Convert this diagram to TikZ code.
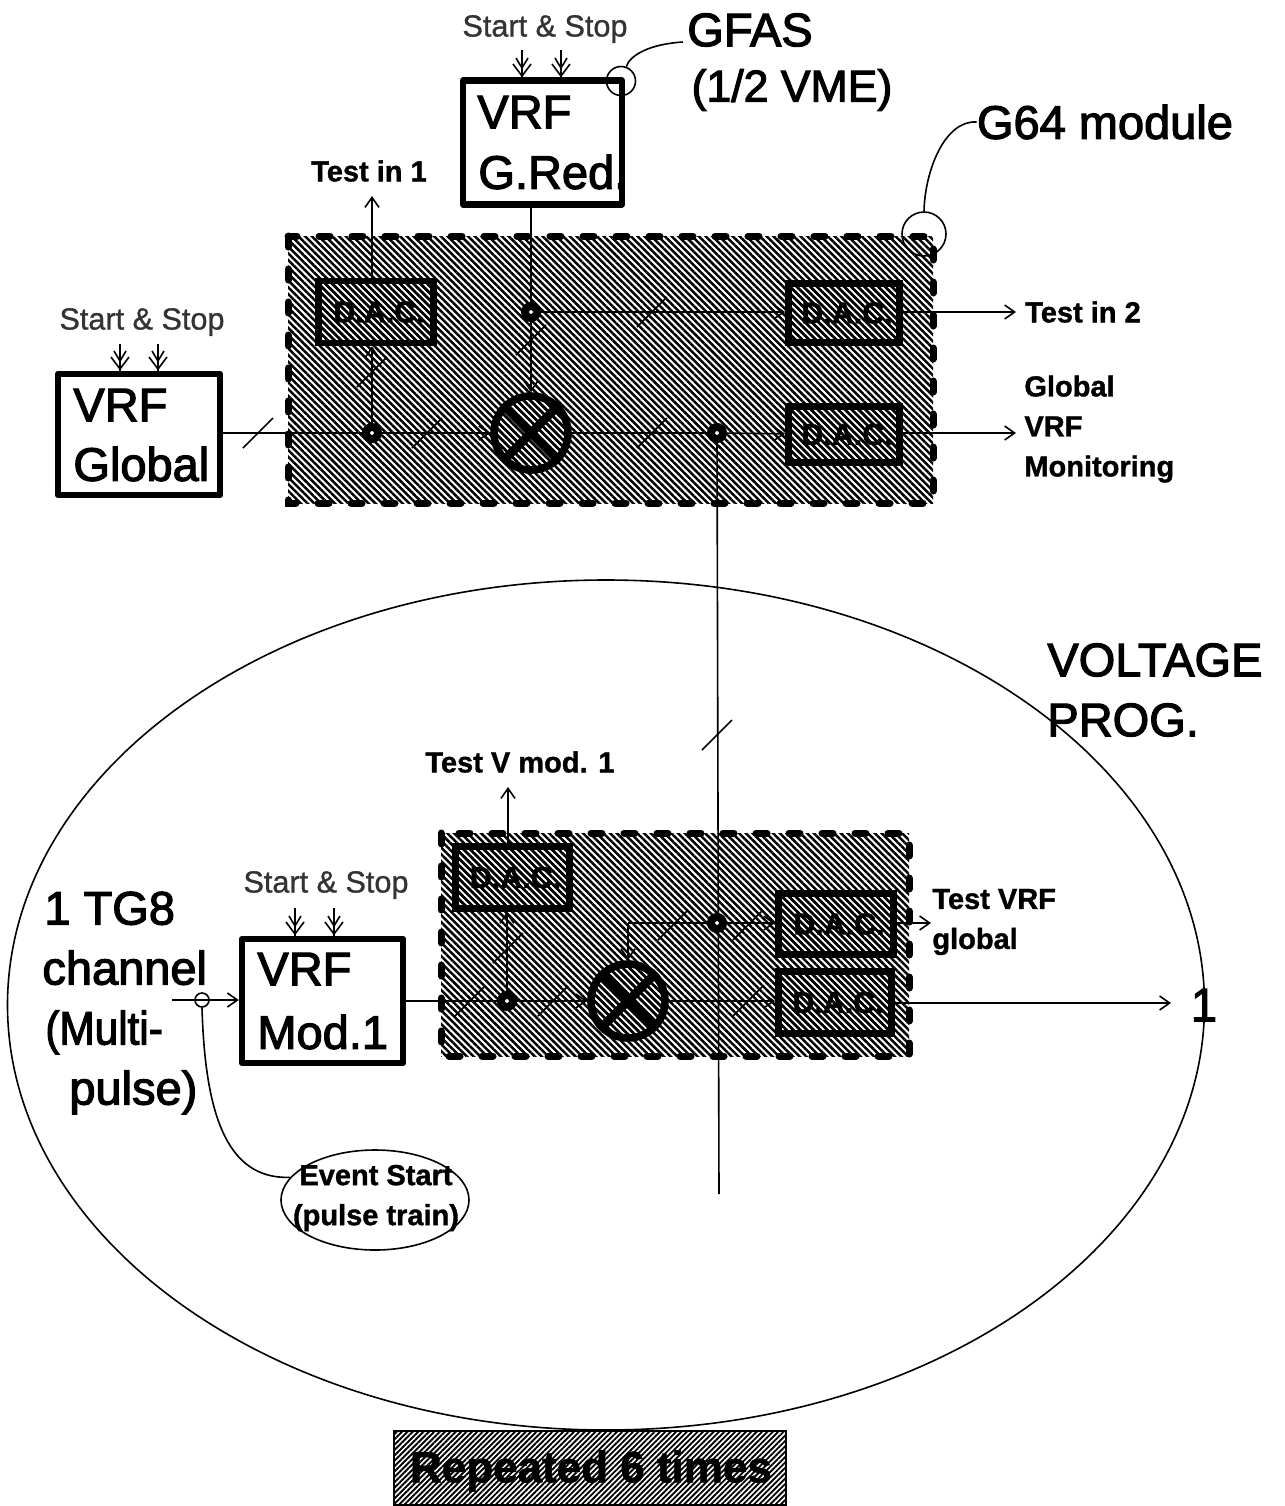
\documentclass[tikz,border=0pt]{standalone}
\usepackage{fontspec}
\setmainfont{Liberation Sans}
\newfontfamily\heavy[FakeBold=2.5]{Liberation Sans}
\newfontfamily\semi[FakeBold=1]{Liberation Sans}
\newfontfamily\heavyb[FakeBold=1.2]{Liberation Sans Bold}
\usetikzlibrary{patterns.meta,arrows.meta,shapes.geometric}
\tikzset{
 x=0.5pt,y=-0.5pt,
 thinl/.style={line width=0.8pt},
 arr/.style={thinl,-{Straight Barb[length=5pt,width=7pt,line width=0.8pt]}},
 hatch/.style={pattern={Lines[angle=-45,distance=2.4pt,line width=1.25pt]},pattern color=black},
 fine/.style={pattern={Lines[angle=45,distance=1.9pt,line width=0.95pt]},pattern color=black},
 module/.style={hatch,draw=none},
 modedge/.style={line width=3.5pt,line cap=round,dash pattern=on 5.5pt off 11pt},
 vrf/.style={draw,line width=3.2pt,line join=round,fill=white,inner sep=0pt,anchor=center},
 vtxt/.style={font=\heavy\fontsize{23.5}{30}\selectfont,inner sep=0pt,anchor=west},
 dac/.style={draw,line width=3.4pt,hatch,inner sep=0pt,font=\heavyb\fontsize{15.2}{18}\selectfont},
 jun/.style={circle,draw,line width=4pt,fill=white,minimum size=6pt,inner sep=0pt},
 mix/.style={circle,draw,line width=3.8pt,minimum size=37pt,inner sep=0pt,hatch},
 lab/.style={font=\heavyb\fontsize{14.5}{20}\selectfont,align=left,inner sep=0pt},
 ss/.style={font=\semi\fontsize{15.3}{17}\selectfont,inner sep=0pt,text=black!80},
 big/.style={font=\heavy\fontsize{23.5}{30}\selectfont,align=left,inner sep=0pt},
 ctl/.style={thinl},
 slash/.style={thinl},
}
\newcommand{\dactext}{\hspace{3pt}D.A.C.}
\begin{document}
\begin{tikzpicture}
\useasboundingbox (0,0) rectangle (1285,1506);
% big ellipse
\node[ellipse,draw,thinl,minimum width=598.5pt,minimum height=425pt,inner sep=0pt] (bigell) at (606,1005) {};
% modules
\path[module] (288,236) rectangle (933,503);
\draw[modedge] (288,236) rectangle (933,503);
\path[module] (441,833) rectangle (909,1056);
\draw[modedge] (441,833) rectangle (909,1056);
% VRF boxes
\node[vrf,minimum width=79.5pt,minimum height=62pt] (gred) at (542.5,142.5) {};
\node[vtxt] (gredt1) at (477,112) {VRF};
\node[vtxt] (gredt2) at (478,172) {G.Red.};
\node[vrf,minimum width=81pt,minimum height=60.5pt] (global) at (139,434.5) {};
\node[vtxt] (globalt1) at (73,405) {VRF};
\node[vtxt] (globalt2) at (73,464) {Global};
\node[vrf,minimum width=80.5pt,minimum height=62pt] (mod) at (322.5,1001) {};
\node[vtxt] (modt1) at (257,969) {VRF};
\node[vtxt] (modt2) at (257,1032) {Mod.1};
% DACs
\node[dac,minimum width=57.5pt,minimum height=31pt] (d1) at (376,312) {\dactext};
\node[dac,minimum width=55.5pt,minimum height=29.5pt] (d2) at (844,313) {\dactext};
\node[dac,minimum width=55.5pt,minimum height=28pt] (d3) at (844,434.5) {\dactext};
\node[dac,minimum width=57pt,minimum height=31pt] (d4) at (512.5,877.5) {\dactext};
\node[dac,minimum width=57.5pt,minimum height=30.5pt] (d5) at (836,924) {\dactext};
\node[dac,minimum width=56.5pt,minimum height=31pt] (d6) at (835,1002.5) {\dactext};
% end points
\coordinate (t1) at (372,196);
\coordinate (t2) at (1016,312);
\coordinate (t3) at (1016,433);
\coordinate (t4) at (508,787);
\coordinate (t5) at (931,923);
\coordinate (t6) at (1171,1003);
\coordinate (vend) at (719,1194);
\coordinate (corner) at (628,923);
\coordinate (tgs) at (172,1000);
\coordinate (j1) at (372,433);
\coordinate (j2) at (531,312);
\coordinate (j3) at (717,433);
\coordinate (j4) at (507,1001);
\coordinate (j5) at (717,923);
\coordinate (m1c) at (531,433);
\coordinate (m2c) at (628,1001);
% junctions and mixers
\node[mix] (m1) at (m1c) {};
\node[mix] (m2) at (m2c) {};
\draw[line width=4.4pt] (m1.45) -- (m1.225) (m1.135) -- (m1.315);
\draw[line width=4.4pt] (m2.45) -- (m2.225) (m2.135) -- (m2.315);
% connectors
\draw[thinl] (global.east|-j1) -- (j1);
\draw[arr] (j1) -- (m1);
\draw[thinl] (m1) -- (j3);
\draw[arr] (j3) -- (d3);
\draw[arr] (j1) -- (d1.south-|j1);
\draw[arr] (d1.north-|j1) -- (t1);
\draw[thinl] (gred.south-|j2) -- (j2);
\draw[arr] (j2) -- (m1);
\draw[arr] (j2) -- (d2.west|-j2);
\draw[arr] (d2.east|-t2) -- (t2);
\draw[arr] (d3.east|-t3) -- (t3);
\draw[thinl] (j3) -- (vend);
\draw[thinl] (mod.east|-j4) -- (j4);
\draw[arr] (j4) -- (m2);
\draw[arr] (j4) -- (d4.south-|j4);
\draw[arr] (d4.north-|t4) -- (t4);
\draw[arr] (m2.east) -- (d6.west|-m2);
\draw[arr] (j5) -- (d5.west|-j5);
\draw[thinl] (j5) -- (corner);
\draw[arr] (corner) -- (m2);
\draw[arr] (d5.east|-t5) -- (t5);
\draw[arr] (d6.east|-t6) -- (t6);
\draw[arr] (tgs) -- (mod.west|-tgs);
\node[jun] (jn1) at (j1) {};
\node[jun] (jn2) at (j2) {};
\node[jun] (jn3) at (j3) {};
\node[jun] (jn4) at (j4) {};
\node[jun] (jn5) at (j5) {};
% slashes
\foreach \px/\py in {258/433,427/433,652/433,372/372,531/340,652/312,717/735,470/1001,553/1001,508/948,673/925,748/925,748/1001}{\draw[slash] (\px-15,\py+15) -- (\px+15,\py-15);}
% start & stop
\node[ss] (ss1) at (545,29) {Start \& Stop};
\node[ss] (ss2) at (142,322) {Start \& Stop};
\node[ss] (ss3) at (326,885) {Start \& Stop};
\foreach \x in {522,561}{\draw[ctl] (\x,50) -- (\x,78);\draw[thinl] (\x-9,64) -- (\x,76) -- (\x+9,64) (\x-6,58) -- (\x,68) -- (\x+6,58);}
\foreach \x in {120,158}{\draw[ctl] (\x,344) -- (\x,371);\draw[thinl] (\x-9,357) -- (\x,369) -- (\x+9,357) (\x-6,351) -- (\x,361) -- (\x+6,351);}
\foreach \x in {295,334}{\draw[ctl] (\x,908) -- (\x,936);\draw[thinl] (\x-9,922) -- (\x,934) -- (\x+9,922) (\x-6,916) -- (\x,926) -- (\x+6,916);}
% callouts
\node[big] (gfas) at (750,30) {GFAS};
\node[big,font=\heavy\fontsize{22.3}{30}\selectfont] (half) at (792,90) {(1/2 VME)};
\node[circle,draw,thinl,minimum size=14.5pt,inner sep=0pt] (cg) at (621,81) {};
\coordinate (gfasend) at (683,42);
\draw[thinl] (cg.70) .. controls (630,55) and (650,44) .. (gfasend);
\node[big] (g64) at (1105,122) {G64 module};
\node[circle,draw,thinl,minimum size=22pt,inner sep=0pt] (cm) at (924,234) {};
\draw[thinl] (cm.90) .. controls (925,170) and (945,120) .. (g64.west);
\node[big,anchor=west] (volt) at (1047,690) {VOLTAGE\\PROG.};
\node[big,anchor=west] (tg8) at (42,1003) {\hspace*{1pt}1 TG8\\channel\\\hspace*{1.5pt}\scalebox{0.9}[1]{(Multi-}\\\hspace*{13.5pt}pulse)};
\node[big] (one) at (1204,1005) {1};
% labels
\node[lab] (l1) at (369,171) {Test in 1};
\node[lab] (l2) at (1083,312) {Test in 2};
\node[lab,anchor=west] (l3) at (1024,429) {Global\\VRF\\Monitoring};
\node[lab,anchor=west] (l4) at (425,762) {Test V mod. 1};
\node[lab,anchor=west] (l5) at (932,922) {Test VRF\\global};
% event ellipse
\node[ellipse,draw,thinl,minimum width=94pt,minimum height=50pt,inner sep=0pt] (ev) at (375,1200) {};
\node[lab,align=center] (evt) at (376,1198) {Event Start\\(pulse train)};
\node[circle,draw,thinl,minimum size=7pt,inner sep=0pt] (tap) at (202,1000) {};
\draw[thinl] (tap.south) .. controls (205,1110) and (225,1180) .. (ev.165);
% repeated
\node[draw,thinl,fine,minimum width=196pt,minimum height=37pt,inner sep=0pt] (rep) at (590,1468) {};
\node[inner sep=0pt,font=\heavyb\fontsize{22}{26}\selectfont] (rept) at (591,1471) {Repeated 6 times};
\end{tikzpicture}
\end{document}
